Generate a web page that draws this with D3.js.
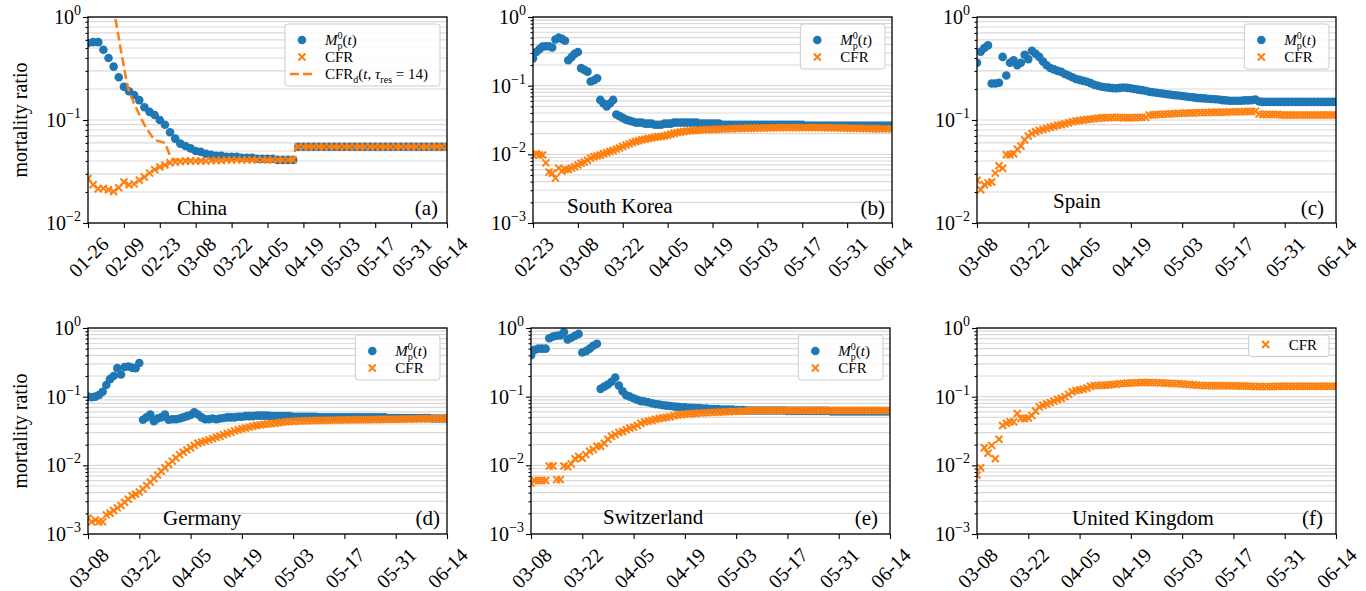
<!DOCTYPE html>
<html>
<head>
<meta charset="utf-8">
<script src="https://cdn.jsdelivr.net/npm/d3@7"></script>
<style>
  body { margin: 0; background: #fff; }
  svg { display: block; font-family: "Liberation Serif", "DejaVu Serif", serif; }
  .grid line { stroke: #d9d9d9; stroke-width: 1.2; }
  .frame { fill: none; stroke: #000; stroke-width: 1.3; }
  .axis text { font-family: "Liberation Serif", serif; font-size: 20px; fill: #000; }
  .axis line { stroke: #000; stroke-width: 1.1; }
  .m0 { fill: #1f77b4; }
  .cfr { stroke: #ff7f0e; stroke-width: 2; fill: none; }
  .cfrd { stroke: #ff7f0e; stroke-width: 2.5; fill: none; stroke-dasharray: 9 4; }
  .legend rect { fill: #fff; fill-opacity: 0.85; stroke: #cccccc; stroke-width: 1; }
  .legend text { font-size: 15px; }
</style>
</head>
<body>
<svg id="chart" width="1366" height="591"></svg>
<script>
// ---- data ----
const endDate = "2020-06-14";

// China, one point every 2 days from 01-26
const chinaStart = "2020-01-26";
const chinaStep = 2;
const chinaM0 = [
  .56,.57,.57,.48,.40,.33,.26,.21,.19,.175,
  .156,.133,.12,.112,.10,.09,.076,.066,.059,.056,
  .053,.050,.049,.047,.046,.045,.045,.044,.044,.044,
  .043,.043,.043,.042,.042,.042,.042,.041,.041,.041,
  .041,.055,.055,.055,.055,.055,.055,.055,.055,.055,
  .055,.055,.055,.055,.055,.055,.055,.055,.055,.055,
  .055,.055,.055,.055,.055,.055,.055,.055,.055,.055,
  .055
];
const chinaCfr = [
  .027,.0235,.0215,.0217,.021,.0202,.022,.025,.0235,.024,
  .026,.028,.0305,.033,.035,.0366,.0385,.039,.0395,.04,
  .04,.04,.04,.04,.0405,.0405,.0405,.041,.041,.041,
  .041,.041,.041,.041,.041,.041,.041,.041,.041,.041,
  .041,.055,.055,.055,.055,.055,.055,.055,.055,.055,
  .055,.055,.055,.055,.055,.055,.055,.055,.055,.055,
  .055,.055,.055,.055,.055,.055,.055,.055,.055,.055,
  .055
];
// CFR_d(t, tau_res = 14), daily from 02-04
const chinaCfrdStart = "2020-02-04";
const chinaCfrd = [
  1.7,1.2,.87,.63,.45,.33,.24,.19,.165,.145,
  .128,.113,.10,.09,.082,.075,.069,.065,.063,.062,
  .061,.06,.052,.045,.042,.041,.041,.041,.041,.041,
  .041,.041,.041,.041,.041,.041,.041,.041,.041,.041,
  .041,.041,.041,.041,.041,.041,.041,.041,.041,.041,
  .041,.041,.041,.041,.041,.041,.041,.041,.041,.041,
  .041,.041,.041,.041,.041,.041,.041,.041,.041,.041,
  .041,.041,.055,.055,.055,.055,.055,.055,.055,.055,
  .055,.055,.055,.055,.055,.055,.055,.055,.055,.055,
  .055,.055,.055,.055,.055,.055,.055,.055,.055,.055,
  .055,.055,.055,.055,.055,.055,.055,.055,.055,.055,
  .055,.055,.055,.055,.055,.055,.055,.055,.055,.055,
  .055,.055,.055,.055,.055,.055,.055,.055,.055,.055,
  .055,.055
];

// South Korea, daily from 02-23
const koreaStart = "2020-02-23";
const koreaM0 = [
  .25,.31,.34,.37,.375,.375,.36,.47,.50,.48,
  .45,.235,.26,.29,.31,.18,.17,.16,.115,.12,
  .128,.062,.055,.05,.055,.062,.038,.036,.034,.032,
  .031,.030,.029,.029,.029,.028,.028,.028,.027,.027,
  .027,.028,.028,.028,.029,.029,.029,.029,.029,.029,
  .029,.029,.028,.028,.028,.028,.028,.028,.028,.027,
  .027,.027,.027,.027,.027,.027,.027,.027,.027,.027,
  .027,.027,.027,.027,.027,.027,.027,.027,.027,.027,
  .027,.027,.027,.027,.027,.026,.026,.026,.026,.026,
  .026,.026,.026,.026,.026,.026,.026,.026,.026,.026,
  .026,.026,.026,.026,.026,.026,.026,.026,.026,.026,
  .026,.026,.026
];
const koreaCfr = [
  .0098,.0102,.0098,.0098,.0075,.0055,.0053,.0045,.0063,.0057,
  .006,.006,.0063,.0066,.007,.0074,.0077,.0082,.0088,.0092,
  .0095,.0098,.0102,.0106,.011,.0114,.0119,.0124,.013,.0136,
  .0142,.0148,.0154,.0158,.0163,.0166,.017,.0173,.0177,.018,
  .0182,.0185,.019,.0196,.0203,.0207,.0212,.0215,.0218,.022,
  .0222,.0224,.0226,.0228,.0229,.023,.023,.0231,.0232,.0233,
  .0234,.0235,.0236,.0237,.0238,.0238,.0239,.024,.024,.024,
  .0241,.0242,.0242,.0243,.0243,.0244,.0244,.0245,.0245,.0245,
  .0245,.0245,.0245,.0245,.0245,.0245,.0245,.0245,.0245,.0245,
  .0245,.0244,.0244,.0243,.0243,.0242,.0242,.0241,.024,.024,
  .024,.0239,.0238,.0238,.0237,.0237,.0236,.0236,.0236,.0235,
  .0235,.0235,.0235
];

// Europe, daily from 03-08
const europeStart = "2020-03-08";
const spainM0 = [
  .36,.46,.50,.53,.226,.226,.23,.41,.27,.36,
  .38,.34,.36,.43,.39,.47,.44,.41,.37,.34,
  .32,.31,.30,.293,.28,.27,.26,.25,.245,.24,
  .235,.228,.22,.215,.21,.208,.206,.204,.203,.205,
  .207,.205,.203,.200,.197,.195,.192,.188,.186,.184,
  .182,.18,.178,.176,.174,.173,.171,.169,.167,.166,
  .164,.163,.162,.161,.16,.159,.158,.156,.155,.154,
  .154,.154,.154,.155,.155,.156,.158,.151,.15,.15,
  .15,.15,.15,.15,.15,.15,.15,.15,.15,.15,
  .15,.15,.15,.15,.15,.15,.15,.15,.15
];
const spainCfr = [
  .026,.021,.0235,.0245,.025,.0305,.036,.034,.046,.046,
  .047,.052,.056,.064,.07,.074,.077,.079,.081,.083,
  .085,.087,.089,.09,.092,.094,.096,.098,.099,.10,
  .101,.102,.103,.104,.105,.105,.105,.106,.106,.106,
  .105,.105,.105,.105,.106,.106,.106,.112,.112,.113,
  .113,.114,.114,.115,.115,.116,.116,.117,.117,.117,
  .118,.118,.118,.118,.119,.119,.119,.119,.119,.12,
  .12,.12,.12,.121,.121,.121,.122,.114,.113,.113,
  .113,.113,.113,.112,.112,.112,.112,.112,.112,.112,
  .112,.112,.112,.112,.112,.112,.112,.112,.112
];
const germanyM0 = [
  .10,.098,.10,.106,.118,.148,.18,.20,.26,.21,
  .27,.275,.265,.26,.31,.046,.05,.055,.044,.048,
  .05,.055,.046,.047,.047,.048,.05,.052,.054,.059,
  .055,.05,.047,.047,.048,.047,.048,.049,.05,.05,
  .05,.051,.051,.052,.052,.052,.053,.053,.053,.053,
  .052,.052,.052,.052,.052,.052,.051,.051,.051,.051,
  .051,.051,.051,.05,.05,.05,.05,.05,.05,.05,
  .05,.05,.05,.05,.05,.05,.05,.05,.05,.05,
  .05,.05,.049,.049,.049,.049,.049,.049,.049,.049,
  .049,.049,.049,.049,.048,.048,.048,.048,.048
];
const germanyCfr = [
  .0017,.0015,.0016,.0015,.0015,.0019,.002,.0022,.0024,.0026,
  .0029,.0032,.0036,.0038,.0041,.0045,.0051,.0057,.0064,.0072,
  .0082,.0092,.0103,.0115,.0128,.0143,.0155,.0168,.018,.0195,
  .021,.0218,.0225,.0235,.0245,.0255,.0265,.028,.029,.0302,
  .0318,.033,.034,.035,.036,.037,.038,.0388,.0395,.04,
  .0405,.041,.0418,.0425,.043,.0434,.0437,.044,.0442,.0444,
  .0446,.0448,.045,.045,.0452,.0453,.0454,.0455,.0456,.0457,
  .0458,.0459,.046,.046,.046,.0461,.0462,.0463,.0464,.0465,
  .0466,.0467,.0468,.0469,.047,.047,.0471,.0472,.0473,.0474,
  .0475,.0476,.0477,.0478,.0479,.048,.048,.048,.048
];
const swissM0 = [
  .40,.48,.50,.50,.50,.71,.75,.77,.78,.87,
  .68,.72,.77,.82,.44,.46,.50,.55,.59,.13,
  .14,.15,.165,.19,.145,.12,.105,.10,.095,.09,
  .086,.085,.083,.08,.078,.077,.075,.074,.073,.072,
  .071,.07,.07,.069,.069,.068,.068,.067,.067,.066,
  .066,.066,.065,.065,.065,.065,.064,.064,.064,.063,
  .063,.063,.063,.063,.063,.063,.063,.063,.063,.063,
  .062,.062,.062,.062,.062,.062,.062,.062,.062,.062,
  .062,.062,.061,.061,.061,.061,.061,.061,.061,.061,
  .061,.061,.061,.061,.061,.061,.061,.061,.061
];
const swissCfr = [
  .0055,.006,.006,.006,.006,.0098,.0098,.0062,.0062,.0098,
  .0095,.0105,.0125,.0135,.0127,.0143,.016,.017,.019,.019,
  .021,.024,.0265,.028,.03,.031,.033,.035,.036,.038,
  .041,.043,.044,.045,.047,.048,.049,.05,.051,.053,
  .054,.055,.056,.056,.057,.057,.058,.058,.058,.059,
  .059,.059,.06,.06,.06,.061,.061,.061,.062,.062,
  .063,.063,.063,.063,.063,.063,.063,.063,.063,.063,
  .063,.063,.063,.063,.063,.063,.063,.063,.063,.063,
  .063,.063,.063,.063,.063,.063,.063,.063,.063,.063,
  .063,.063,.063,.063,.063,.063,.063,.063,.063
];
const ukCfr = [
  .0072,.0092,.018,.015,.0195,.0125,.024,.038,.041,.043,
  .043,.057,.048,.048,.049,.053,.062,.071,.075,.078,
  .082,.086,.091,.094,.10,.108,.118,.123,.125,.128,
  .134,.142,.145,.146,.147,.147,.148,.15,.152,.155,
  .156,.157,.158,.159,.16,.161,.161,.161,.16,.16,
  .159,.158,.157,.156,.155,.155,.153,.151,.15,.149,
  .147,.146,.145,.145,.144,.144,.144,.144,.144,.144,
  .144,.143,.143,.143,.142,.142,.141,.141,.14,.14,
  .141,.141,.142,.142,.142,.142,.142,.142,.142,.142,
  .142,.142,.142,.142,.142,.142,.142,.142,.142
];

// ---- layout ----
const W = 359, H = 206;
const parseDate = d3.utcParse("%Y-%m-%d");
const svg = d3.select("#chart");

const panels = [
  {tag: "(a)", name: "China", left: 88, top: 17, yMin: 1e-2, start: chinaStart, step: chinaStep,
   m0: chinaM0, cfr: chinaCfr, cfrd: chinaCfrd, cfrdStart: chinaCfrdStart,
   nameX: 89, nameDy: 8, tagDx: 9, tagDy: 8, ylabel: true},
  {tag: "(b)", name: "South Korea", left: 533, top: 17, yMin: 1e-3, start: koreaStart, step: 1,
   m0: koreaM0, cfr: koreaCfr, nameX: 34, nameDy: 10, tagDx: 7, tagDy: 8},
  {tag: "(c)", name: "Spain", left: 977, top: 17, yMin: 1e-2, start: europeStart, step: 1,
   m0: spainM0, cfr: spainCfr, nameX: 76, nameDy: 15, tagDx: 12, tagDy: 8},
  {tag: "(d)", name: "Germany", left: 88, top: 328, yMin: 1e-3, start: europeStart, step: 1,
   m0: germanyM0, cfr: germanyCfr, nameX: 75, nameDy: 9, tagDx: 7, tagDy: 9, ylabel: true},
  {tag: "(e)", name: "Switzerland", left: 531, top: 328, yMin: 1e-3, start: europeStart, step: 1,
   m0: swissM0, cfr: swissCfr, nameX: 72, nameDy: 10, tagDx: 12, tagDy: 9},
  {tag: "(f)", name: "United Kingdom", left: 977, top: 328, yMin: 1e-3, start: europeStart, step: 1,
   cfr: ukCfr, nameX: 95, nameDy: 9, tagDx: 13, tagDy: 9}
];

// legend label builders (math-ish text with tspans)
function labelM0(t) {
  t.append("tspan").attr("font-style", "italic").text("M");
  t.append("tspan").attr("font-size", 10).attr("dy", -6).text("0");
  t.append("tspan").attr("font-size", 10).attr("dx", -5).attr("dy", 10).text("p");
  t.append("tspan").attr("dy", -4).text("(");
  t.append("tspan").attr("font-style", "italic").text("t");
  t.append("tspan").text(")");
}
function labelCfr(t) {
  t.text("CFR");
}
function labelCfrd(t) {
  t.append("tspan").text("CFR");
  t.append("tspan").attr("font-size", 10).attr("dy", 4).text("d");
  t.append("tspan").attr("dy", -4).text("(");
  t.append("tspan").attr("font-style", "italic").text("t");
  t.append("tspan").text(", ");
  t.append("tspan").attr("font-style", "italic").text("τ");
  t.append("tspan").attr("font-size", 10).attr("dy", 4).text("res");
  t.append("tspan").attr("dy", -4).text(" = 14)");
}

const crossPath = "M-3.5,-3.5L3.5,3.5M-3.5,3.5L3.5,-3.5";
const dotR = 4.3;

function toPoints(values, startStr, step) {
  const s = parseDate(startStr);
  return values.map((v, i) => ({date: d3.utcDay.offset(s, i * step), v: v}));
}

function drawPanel(p, idx) {
  const g = svg.append("g");
  const start = parseDate(p.start), end = parseDate(endDate);
  const x = d3.scaleUtc().domain([start, end]).range([p.left, p.left + W]);
  const y = d3.scaleLog().domain([p.yMin, 1]).range([p.top + H, p.top]);

  const decades = d3.range(Math.round(Math.log10(p.yMin)), 1).map(e => Math.pow(10, e));
  const minors = [];
  decades.slice(0, -1).forEach(d => {
    for (let k = 2; k < 10; k++) minors.push(d * k);
  });

  // Horizontal grid on major and minor ticks
  g.append("g").attr("class", "grid")
    .selectAll("line")
    .data(decades.concat(minors))
    .join("line")
    .attr("x1", p.left).attr("x2", p.left + W)
    .attr("y1", d => y(d)).attr("y2", d => y(d));

  // Clip the marks to the axes box
  const clipId = "clip" + idx;
  g.append("clipPath").attr("id", clipId)
    .append("rect")
    .attr("x", p.left).attr("y", p.top).attr("width", W).attr("height", H);
  const marks = g.append("g").attr("clip-path", `url(#${clipId})`);

  if (p.m0) {
    marks.append("g").selectAll("circle")
      .data(toPoints(p.m0, p.start, p.step))
      .join("circle")
      .attr("class", "m0")
      .attr("cx", d => x(d.date))
      .attr("cy", d => y(d.v))
      .attr("r", dotR);
  }
  marks.append("g").selectAll("path")
    .data(toPoints(p.cfr, p.start, p.step))
    .join("path")
    .attr("class", "cfr")
    .attr("d", crossPath)
    .attr("transform", d => `translate(${x(d.date)},${y(d.v)})`);

  if (p.cfrd) {
    const line = d3.line().x(d => x(d.date)).y(d => y(d.v));
    marks.append("path")
      .attr("class", "cfrd")
      .attr("d", line(toPoints(p.cfrd, p.cfrdStart, 1)));
  }

  // Y axis: major + minor ticks
  g.append("g").attr("class", "axis")
    .attr("transform", `translate(${p.left},0)`)
    .call(d3.axisLeft(y).tickValues(decades).tickSize(5).tickFormat(""))
    .call(a => a.select(".domain").remove());
  g.append("g").attr("class", "axis")
    .attr("transform", `translate(${p.left},0)`)
    .call(d3.axisLeft(y).tickValues(minors).tickSize(2.5).tickFormat(""))
    .call(a => a.select(".domain").remove());

  // Y tick labels 10^k
  g.append("g").selectAll("text")
    .data(decades)
    .join("text")
    .attr("x", p.left - 7)
    .attr("y", d => y(d))
    .attr("dy", "0.35em")
    .attr("text-anchor", "end")
    .attr("font-size", 20)
    .each(function (d) {
      const t = d3.select(this);
      const e = Math.round(Math.log10(d));
      t.append("tspan").text("10");
      t.append("tspan").attr("font-size", 14).attr("dy", -9)
        .text(e === 0 ? "0" : "\u2212" + Math.abs(e));
    });

  // X axis with rotated date labels
  const xTicks = d3.utcDay.range(start, d3.utcDay.offset(end, 1), 14);
  g.append("g").attr("class", "axis")
    .attr("transform", `translate(0,${p.top + H})`)
    .call(d3.axisBottom(x).tickValues(xTicks).tickSize(5).tickFormat(d3.utcFormat("%m-%d")))
    .call(a => a.select(".domain").remove())
    .selectAll("text")
    .attr("y", null)
    .attr("dy", "0.35em")
    .attr("text-anchor", "middle")
    .attr("transform", "translate(0,34) rotate(-45)");

  // Frame
  g.append("rect").attr("class", "frame")
    .attr("x", p.left).attr("y", p.top).attr("width", W).attr("height", H);

  // Country name and panel tag
  g.append("text")
    .attr("x", p.left + p.nameX).attr("y", p.top + H - p.nameDy)
    .attr("font-size", 21)
    .text(p.name);
  g.append("text")
    .attr("x", p.left + W - p.tagDx).attr("y", p.top + H - p.tagDy)
    .attr("text-anchor", "end")
    .attr("font-size", 21)
    .text(p.tag);

  if (p.ylabel) {
    g.append("text")
      .attr("transform", `translate(20,${p.top + H / 2}) rotate(-90)`)
      .attr("text-anchor", "middle")
      .attr("dy", "0.35em")
      .attr("font-size", 20)
      .text("mortality ratio");
  }

  // Legend
  const entries = [];
  if (p.m0) entries.push({kind: "dot", label: labelM0});
  entries.push({kind: "x", label: labelCfr});
  if (p.cfrd) entries.push({kind: "dash", label: labelCfrd});

  const lg = g.append("g").attr("class", "legend");
  const box = lg.append("rect").attr("rx", 3).attr("ry", 3);
  const boxTop = p.top + 7;
  let cy = boxTop + (p.m0 ? 16 : 9.5);
  const rows = [];
  entries.forEach(en => {
    const row = lg.append("g").attr("transform", `translate(0,${cy})`);
    const txt = row.append("text").attr("x", 40).attr("y", 5);
    en.label(txt);
    if (en.kind === "dot") {
      row.append("circle").attr("class", "m0").attr("cx", 17).attr("cy", 0).attr("r", dotR);
    } else if (en.kind === "x") {
      row.append("path").attr("class", "cfr").attr("d", crossPath).attr("transform", "translate(17,0)");
    } else {
      row.append("path").attr("class", "cfrd").attr("d", "M5,0H30").attr("stroke-dasharray", "8 4");
    }
    rows.push({row, txt});
    cy += 17;
  });
  const textW = d3.max(rows, r => r.txt.node().getBBox().width);
  const boxW = 40 + textW + 12;
  const boxLeft = p.left + W - 7 - boxW;
  lg.attr("transform", `translate(${boxLeft},0)`);
  box.attr("x", 0).attr("y", boxTop).attr("width", boxW).attr("height", cy - 17 + 12 - boxTop);
}

panels.forEach(drawPanel);
</script>
</body>
</html>
